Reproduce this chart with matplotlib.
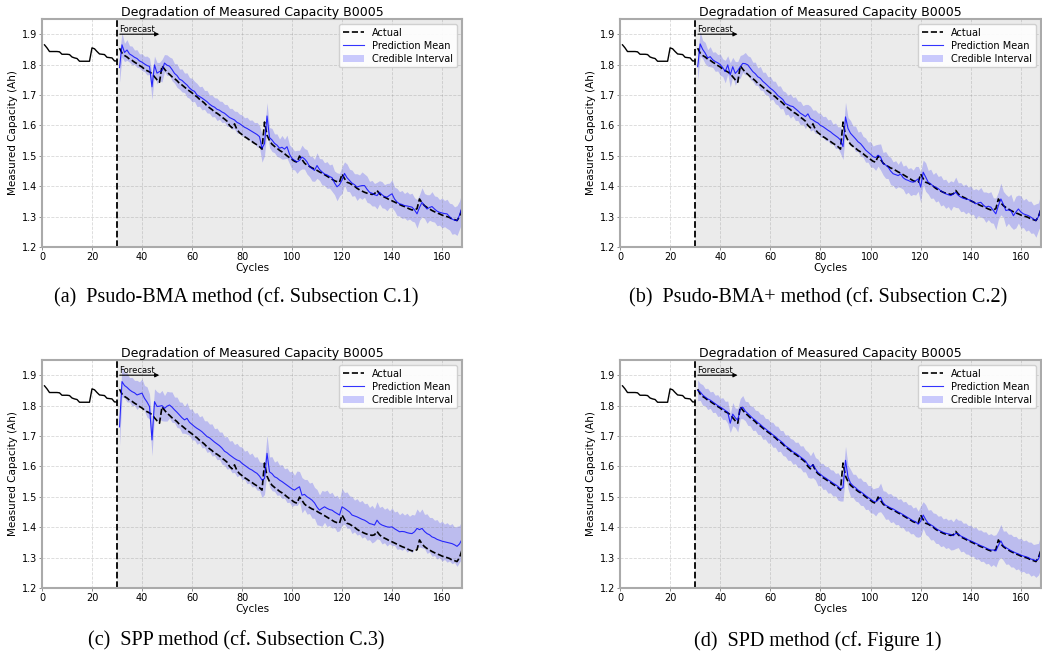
import numpy as np
import matplotlib
matplotlib.use('Agg')
import matplotlib.pyplot as plt

# cycle numbers and measured capacity of battery B0005
cycles = np.arange(1, 169)
actual = [
    1.865, 1.855, 1.843, 1.843, 1.843, 1.843, 1.842, 1.834, 1.834, 1.834,
    1.833, 1.825, 1.822, 1.820, 1.811, 1.811, 1.811, 1.811, 1.811, 1.855,
    1.852, 1.843, 1.835, 1.834, 1.833, 1.824, 1.823, 1.822, 1.812, 1.812,
    1.854, 1.838, 1.830, 1.825, 1.818, 1.814, 1.808, 1.803, 1.797, 1.792,
    1.785, 1.780, 1.776, 1.770, 1.760, 1.750, 1.742, 1.796, 1.785, 1.775,
    1.768, 1.760, 1.754, 1.747, 1.738, 1.733, 1.726, 1.719, 1.713, 1.707,
    1.700, 1.694, 1.686, 1.680, 1.673, 1.664, 1.658, 1.652, 1.644, 1.640,
    1.634, 1.627, 1.621, 1.614, 1.600, 1.592, 1.605, 1.586, 1.576, 1.570,
    1.563, 1.558, 1.552, 1.547, 1.541, 1.536, 1.530, 1.522, 1.611, 1.568,
    1.550, 1.538, 1.531, 1.525, 1.518, 1.513, 1.507, 1.500, 1.494, 1.488,
    1.482, 1.479, 1.499, 1.488, 1.476, 1.469, 1.465, 1.460, 1.457, 1.452,
    1.447, 1.443, 1.438, 1.433, 1.428, 1.423, 1.418, 1.415, 1.413, 1.440,
    1.425, 1.413, 1.410, 1.405, 1.400, 1.393, 1.388, 1.384, 1.380, 1.377,
    1.375, 1.373, 1.375, 1.386, 1.375, 1.368, 1.364, 1.360, 1.355, 1.352,
    1.348, 1.344, 1.340, 1.336, 1.333, 1.329, 1.325, 1.322, 1.322, 1.326,
    1.358, 1.345, 1.336, 1.330, 1.325, 1.320, 1.316, 1.312, 1.309, 1.305,
    1.302, 1.300, 1.297, 1.292, 1.290, 1.287, 1.300, 1.325]

forecast_start = 30

# (a) Psudo-BMA : prediction mean and half width of credible interval (cycles 31..168)
mean_a = [
    1.790, 1.865, 1.840, 1.848, 1.835, 1.830, 1.824, 1.820, 1.812, 1.808,
    1.802, 1.797, 1.794, 1.727, 1.799, 1.772, 1.777, 1.780, 1.805, 1.798,
    1.795, 1.784, 1.771, 1.764, 1.752, 1.748, 1.740, 1.733, 1.723, 1.716,
    1.712, 1.700, 1.695, 1.690, 1.684, 1.678, 1.670, 1.664, 1.660, 1.653,
    1.650, 1.644, 1.640, 1.633, 1.626, 1.622, 1.618, 1.610, 1.606, 1.600,
    1.594, 1.590, 1.585, 1.580, 1.575, 1.570, 1.563, 1.525, 1.540, 1.631,
    1.560, 1.552, 1.541, 1.535, 1.525, 1.528, 1.522, 1.530, 1.505, 1.491,
    1.485, 1.480, 1.485, 1.496, 1.490, 1.480, 1.465, 1.458, 1.452, 1.468,
    1.455, 1.447, 1.440, 1.437, 1.432, 1.428, 1.411, 1.398, 1.405, 1.420,
    1.442, 1.428, 1.419, 1.410, 1.405, 1.397, 1.400, 1.402, 1.402, 1.390,
    1.380, 1.377, 1.372, 1.369, 1.380, 1.372, 1.366, 1.364, 1.370, 1.375,
    1.358, 1.348, 1.342, 1.340, 1.336, 1.335, 1.333, 1.331, 1.322, 1.309,
    1.330, 1.347, 1.335, 1.325, 1.330, 1.333, 1.325, 1.318, 1.314, 1.312,
    1.310, 1.309, 1.300, 1.292, 1.288, 1.287, 1.305, 1.331]
hw_a = [
    0.048, 0.040, 0.030, 0.034, 0.027, 0.031, 0.024, 0.029, 0.023, 0.028,
    0.025, 0.031, 0.027, 0.042, 0.029, 0.035, 0.030, 0.037, 0.028, 0.034,
    0.030, 0.037, 0.032, 0.039, 0.033, 0.038, 0.032, 0.040, 0.034, 0.039,
    0.033, 0.038, 0.032, 0.039, 0.031, 0.037, 0.030, 0.036, 0.031, 0.037,
    0.030, 0.035, 0.029, 0.036, 0.030, 0.034, 0.029, 0.036, 0.031, 0.035,
    0.031, 0.037, 0.032, 0.038, 0.034, 0.040, 0.036, 0.046, 0.040, 0.044,
    0.033, 0.038, 0.031, 0.037, 0.030, 0.039, 0.032, 0.038, 0.031, 0.036,
    0.031, 0.038, 0.033, 0.039, 0.034, 0.040, 0.034, 0.041, 0.036, 0.042,
    0.036, 0.043, 0.037, 0.044, 0.038, 0.045, 0.039, 0.046, 0.037, 0.044,
    0.038, 0.045, 0.037, 0.043, 0.036, 0.044, 0.037, 0.045, 0.038, 0.043,
    0.036, 0.042, 0.037, 0.044, 0.038, 0.043, 0.039, 0.045, 0.040, 0.046,
    0.039, 0.045, 0.040, 0.046, 0.040, 0.047, 0.041, 0.046, 0.040, 0.047,
    0.042, 0.048, 0.041, 0.047, 0.042, 0.049, 0.043, 0.048, 0.042, 0.049,
    0.043, 0.048, 0.044, 0.050, 0.044, 0.049, 0.046, 0.050]

# (b) Psudo-BMA+
mean_b = [
    1.793, 1.868, 1.850, 1.838, 1.822, 1.826, 1.816, 1.810, 1.806, 1.800,
    1.790, 1.777, 1.799, 1.766, 1.793, 1.771, 1.780, 1.793, 1.804, 1.803,
    1.799, 1.788, 1.777, 1.770, 1.760, 1.755, 1.745, 1.738, 1.730, 1.722,
    1.716, 1.708, 1.698, 1.692, 1.685, 1.672, 1.668, 1.664, 1.662, 1.655,
    1.648, 1.640, 1.635, 1.629, 1.638, 1.622, 1.618, 1.612, 1.608, 1.600,
    1.596, 1.590, 1.584, 1.579, 1.572, 1.566, 1.560, 1.552, 1.530, 1.628,
    1.590, 1.574, 1.565, 1.556, 1.546, 1.540, 1.530, 1.519, 1.512, 1.505,
    1.497, 1.494, 1.502, 1.496, 1.474, 1.470, 1.463, 1.450, 1.441, 1.438,
    1.435, 1.440, 1.428, 1.422, 1.419, 1.415, 1.413, 1.418, 1.424, 1.397,
    1.446, 1.430, 1.413, 1.408, 1.400, 1.397, 1.392, 1.385, 1.380, 1.375,
    1.372, 1.369, 1.374, 1.380, 1.370, 1.364, 1.360, 1.358, 1.356, 1.353,
    1.348, 1.342, 1.345, 1.347, 1.338, 1.331, 1.334, 1.331, 1.320, 1.309,
    1.336, 1.358, 1.340, 1.320, 1.322, 1.320, 1.303, 1.315, 1.325, 1.315,
    1.309, 1.306, 1.303, 1.298, 1.292, 1.287, 1.300, 1.325]
hw_b = [
    0.046, 0.040, 0.030, 0.035, 0.027, 0.033, 0.025, 0.032, 0.027, 0.035,
    0.029, 0.037, 0.030, 0.040, 0.031, 0.039, 0.030, 0.037, 0.029, 0.037,
    0.030, 0.037, 0.031, 0.038, 0.029, 0.039, 0.030, 0.037, 0.030, 0.039,
    0.030, 0.037, 0.031, 0.038, 0.029, 0.038, 0.031, 0.040, 0.030, 0.039,
    0.032, 0.039, 0.030, 0.040, 0.031, 0.041, 0.032, 0.039, 0.033, 0.040,
    0.033, 0.040, 0.034, 0.041, 0.032, 0.042, 0.035, 0.044, 0.042, 0.048,
    0.036, 0.042, 0.033, 0.042, 0.032, 0.041, 0.034, 0.040, 0.033, 0.042,
    0.035, 0.042, 0.036, 0.043, 0.037, 0.044, 0.038, 0.045, 0.039, 0.046,
    0.037, 0.045, 0.038, 0.048, 0.039, 0.046, 0.040, 0.047, 0.041, 0.050,
    0.040, 0.047, 0.039, 0.048, 0.039, 0.049, 0.040, 0.050, 0.041, 0.048,
    0.039, 0.049, 0.040, 0.050, 0.041, 0.048, 0.042, 0.049, 0.041, 0.048,
    0.040, 0.050, 0.042, 0.049, 0.043, 0.050, 0.044, 0.051, 0.042, 0.052,
    0.045, 0.052, 0.043, 0.053, 0.044, 0.054, 0.045, 0.052, 0.046, 0.053,
    0.045, 0.054, 0.047, 0.053, 0.046, 0.055, 0.045, 0.052]

# (c) SPP
mean_c = [
    1.730, 1.879, 1.866, 1.860, 1.852, 1.846, 1.842, 1.835, 1.838, 1.841,
    1.824, 1.812, 1.797, 1.687, 1.813, 1.797, 1.798, 1.800, 1.791, 1.798,
    1.802, 1.795, 1.786, 1.778, 1.769, 1.760, 1.753, 1.758, 1.745, 1.738,
    1.731, 1.725, 1.720, 1.714, 1.706, 1.698, 1.694, 1.687, 1.680, 1.674,
    1.668, 1.660, 1.650, 1.645, 1.638, 1.632, 1.626, 1.621, 1.618, 1.610,
    1.604, 1.598, 1.592, 1.588, 1.582, 1.577, 1.568, 1.555, 1.560, 1.643,
    1.582, 1.576, 1.566, 1.562, 1.555, 1.550, 1.544, 1.538, 1.532, 1.526,
    1.522, 1.528, 1.533, 1.505, 1.508, 1.500, 1.495, 1.489, 1.480, 1.466,
    1.456, 1.462, 1.467, 1.462, 1.458, 1.456, 1.450, 1.445, 1.440, 1.467,
    1.462, 1.456, 1.450, 1.440, 1.437, 1.434, 1.430, 1.426, 1.423, 1.418,
    1.412, 1.410, 1.407, 1.423, 1.412, 1.407, 1.404, 1.401, 1.400, 1.401,
    1.395, 1.390, 1.385, 1.386, 1.385, 1.382, 1.380, 1.379, 1.385, 1.396,
    1.392, 1.396, 1.386, 1.379, 1.375, 1.368, 1.365, 1.360, 1.357, 1.354,
    1.352, 1.350, 1.348, 1.346, 1.342, 1.337, 1.345, 1.360]
hw_c = [
    0.062, 0.050, 0.041, 0.048, 0.040, 0.047, 0.041, 0.048, 0.040, 0.047,
    0.042, 0.050, 0.041, 0.052, 0.042, 0.049, 0.043, 0.050, 0.042, 0.049,
    0.043, 0.050, 0.042, 0.050, 0.043, 0.051, 0.044, 0.052, 0.043, 0.051,
    0.044, 0.052, 0.043, 0.053, 0.044, 0.052, 0.045, 0.053, 0.044, 0.052,
    0.045, 0.053, 0.046, 0.054, 0.045, 0.053, 0.046, 0.055, 0.047, 0.054,
    0.046, 0.055, 0.047, 0.056, 0.048, 0.055, 0.047, 0.058, 0.052, 0.060,
    0.049, 0.056, 0.048, 0.057, 0.049, 0.056, 0.048, 0.057, 0.050, 0.058,
    0.049, 0.057, 0.050, 0.058, 0.049, 0.057, 0.050, 0.059, 0.051, 0.058,
    0.050, 0.059, 0.051, 0.060, 0.052, 0.059, 0.051, 0.060, 0.052, 0.061,
    0.052, 0.060, 0.053, 0.061, 0.052, 0.060, 0.053, 0.062, 0.054, 0.061,
    0.053, 0.062, 0.054, 0.061, 0.053, 0.062, 0.055, 0.063, 0.054, 0.062,
    0.055, 0.063, 0.056, 0.062, 0.055, 0.064, 0.056, 0.063, 0.055, 0.064,
    0.057, 0.064, 0.056, 0.065, 0.057, 0.064, 0.058, 0.065, 0.057, 0.066,
    0.058, 0.065, 0.059, 0.066, 0.058, 0.066, 0.060, 0.064]

# (d) SPD
mean_d = [
    1.850, 1.845, 1.835, 1.828, 1.822, 1.818, 1.812, 1.806, 1.800, 1.795,
    1.790, 1.784, 1.778, 1.742, 1.772, 1.760, 1.752, 1.790, 1.795, 1.782,
    1.774, 1.766, 1.758, 1.752, 1.744, 1.738, 1.730, 1.724, 1.717, 1.711,
    1.704, 1.698, 1.690, 1.684, 1.677, 1.668, 1.662, 1.656, 1.648, 1.644,
    1.638, 1.631, 1.625, 1.618, 1.606, 1.598, 1.606, 1.592, 1.580, 1.574,
    1.567, 1.562, 1.556, 1.551, 1.545, 1.540, 1.534, 1.526, 1.530, 1.620,
    1.565, 1.545, 1.536, 1.530, 1.522, 1.517, 1.511, 1.504, 1.498, 1.492,
    1.486, 1.483, 1.490, 1.498, 1.480, 1.472, 1.468, 1.463, 1.460, 1.455,
    1.450, 1.446, 1.441, 1.436, 1.431, 1.426, 1.421, 1.418, 1.410, 1.420,
    1.440, 1.425, 1.413, 1.408, 1.403, 1.396, 1.391, 1.387, 1.383, 1.380,
    1.378, 1.376, 1.372, 1.380, 1.378, 1.371, 1.367, 1.363, 1.358, 1.355,
    1.351, 1.347, 1.343, 1.339, 1.336, 1.332, 1.328, 1.325, 1.325, 1.322,
    1.340, 1.355, 1.339, 1.333, 1.328, 1.323, 1.319, 1.315, 1.312, 1.308,
    1.305, 1.303, 1.300, 1.295, 1.293, 1.290, 1.295, 1.320]
hw_d = [
    0.034, 0.028, 0.034, 0.028, 0.035, 0.027, 0.035, 0.028, 0.036, 0.029,
    0.036, 0.030, 0.037, 0.031, 0.038, 0.032, 0.039, 0.033, 0.038, 0.032,
    0.039, 0.033, 0.040, 0.033, 0.039, 0.034, 0.041, 0.034, 0.040, 0.035,
    0.041, 0.035, 0.042, 0.034, 0.041, 0.035, 0.042, 0.036, 0.041, 0.035,
    0.042, 0.036, 0.043, 0.036, 0.042, 0.037, 0.043, 0.037, 0.044, 0.036,
    0.043, 0.037, 0.044, 0.038, 0.043, 0.037, 0.045, 0.040, 0.044, 0.046,
    0.039, 0.045, 0.038, 0.044, 0.039, 0.045, 0.040, 0.046, 0.039, 0.045,
    0.040, 0.046, 0.041, 0.047, 0.040, 0.046, 0.041, 0.048, 0.042, 0.047,
    0.041, 0.048, 0.042, 0.049, 0.043, 0.048, 0.042, 0.049, 0.043, 0.050,
    0.044, 0.049, 0.043, 0.050, 0.044, 0.049, 0.045, 0.051, 0.044, 0.050,
    0.045, 0.051, 0.046, 0.050, 0.045, 0.052, 0.046, 0.051, 0.047, 0.052,
    0.046, 0.053, 0.047, 0.052, 0.048, 0.053, 0.047, 0.054, 0.048, 0.053,
    0.049, 0.054, 0.048, 0.055, 0.049, 0.054, 0.050, 0.055, 0.049, 0.056,
    0.050, 0.055, 0.051, 0.056, 0.050, 0.055, 0.052, 0.056]

captions = ['(a)  Psudo-BMA method (cf. Subsection C.1)',
            '(b)  Psudo-BMA+ method (cf. Subsection C.2)',
            '(c)  SPP method (cf. Subsection C.3)',
            '(d)  SPD method (cf. Figure 1)']
means = [mean_a, mean_b, mean_c, mean_d]
widths = [hw_a, hw_b, hw_c, hw_d]

fig = plt.figure(figsize=(10.42, 6.55), dpi=100)
# axes boxes [left, bottom, width, height] in figure fraction
boxes = [[0.0403, 0.6229, 0.4031, 0.3481],
         [0.5950, 0.6229, 0.4040, 0.3481],
         [0.0403, 0.1023, 0.4031, 0.3481],
         [0.5950, 0.1023, 0.4040, 0.3481]]
cap_pos = [(0.2265, 0.545), (0.785, 0.545), (0.2265, 0.022), (0.785, 0.022)]

actual = np.array(actual)
n0 = forecast_start
for box, mean, hw, cap, cp in zip(boxes, means, widths, captions, cap_pos):
    ax = fig.add_axes(box)
    x_fc = cycles[n0:]
    mean = np.array(mean)
    hw = np.array(hw)

    ax.axvspan(n0, 168, color='lightgray', alpha=0.45, lw=0)
    ax.plot(cycles[:n0], actual[:n0], color='black', lw=1.0)
    ax.plot(x_fc, actual[n0:], color='black', ls='--', lw=1.2, label='Actual')
    ax.plot(x_fc, mean, color='blue', lw=0.8, alpha=0.8, label='Prediction Mean')
    ax.fill_between(x_fc, mean - hw, mean + hw, color='blue', alpha=0.2,
                    lw=0, label='Credible Interval')
    ax.axvline(n0, color='black', ls='--', lw=1.3)

    # forecast arrow
    ax.annotate('', xy=(48, 1.9), xytext=(n0, 1.9),
                arrowprops=dict(arrowstyle='-|>', color='black', lw=0.8,
                                mutation_scale=6))
    ax.text(n0 + 0.8, 1.907, 'Forecast', fontsize=6)

    ax.set_xlim(0, 168)
    ax.set_ylim(1.2, 1.95)
    ax.set_xticks(range(0, 161, 20))
    ax.set_yticks([1.2, 1.3, 1.4, 1.5, 1.6, 1.7, 1.8, 1.9])
    ax.tick_params(labelsize=7, length=2, width=0.6, color='gray', pad=1.5)
    ax.grid(True, ls='--', color='gray', alpha=0.3, lw=0.6)
    for sp in ax.spines.values():
        sp.set_color('#aaaaaa')
        sp.set_linewidth(1.5)
    ax.set_title('Degradation of Measured Capacity B0005', fontsize=9, pad=2)
    ax.set_xlabel('Cycles', fontsize=7.5, labelpad=1)
    ax.set_ylabel('Measured Capacity (Ah)', fontsize=7.5, labelpad=3)
    ax.legend(loc='upper right', fontsize=7, framealpha=0.9,
              borderpad=0.4, labelspacing=0.3, handlelength=2.2)

    fig.text(cp[0], cp[1], cap, ha='center', va='center', fontsize=14.5,
             family='Liberation Serif')

fig.savefig('out.png', dpi=100)
